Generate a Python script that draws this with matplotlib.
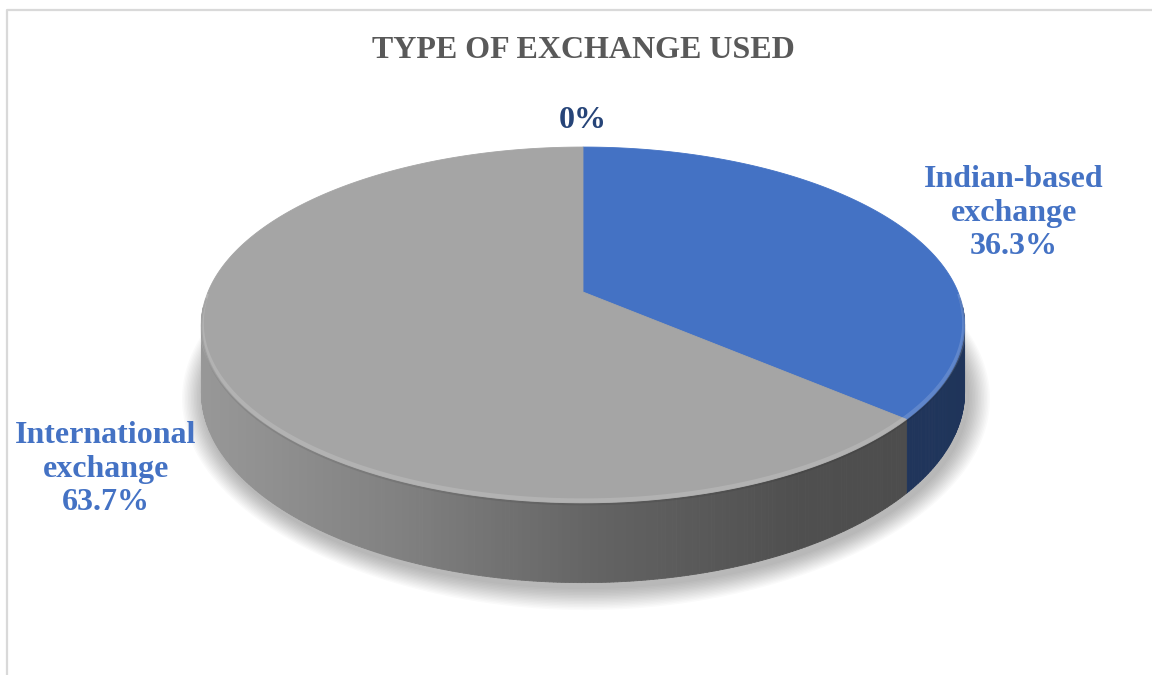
"""Type of exchange used: 3-D style pie drawn by hand in pixel space."""

import matplotlib
matplotlib.use("Agg")
import matplotlib.pyplot as plt
from matplotlib.collections import PolyCollection
from matplotlib.patches import Polygon
import numpy as np

# ---------------------------------------------------------------------------
# Data
# ---------------------------------------------------------------------------
categories = ["Indian-based exchange", "International exchange", "Other"]
shares = [36.3, 63.7, 0.0]
label_names = [["Indian-based", "exchange"], ["International", "exchange"], []]

top_colors = ["#4472C4", "#A5A5A5", "#ED7D31"]
label_colors = ["#4472C4", "#4472C4", "#264478"]

TITLE = "TYPE OF EXCHANGE USED"

# ---------------------------------------------------------------------------
# Geometry of the tilted disc (pixels, y grows downwards)
# ---------------------------------------------------------------------------
W, H_FIG = 1152, 675
CX, CY = 583.0, 292.0   # projected centre of the top face
A = 375.0               # horizontal radius
K = 171.8               # vertical radius before perspective
D = 5.4                 # camera distance in radius units
DEPTH = 65.0            # thickness of the disc

FONT = ["Liberation Serif", "DejaVu Serif"]


def project(theta_deg, z=0.0):
    """theta measured clockwise from 12 o'clock; z pushes the point down."""
    t = np.radians(np.asarray(theta_deg, dtype=float))
    x3 = np.sin(t)
    y3 = -np.cos(t)
    s = D / (D - y3)
    return CX + A * x3 * s, CY + K * y3 * s + z * s


def side_factor(x):
    return np.interp(x, [200, 400, 600, 800, 960], [0.92, 0.78, 0.60, 0.48, 0.46])


def pct_text(v):
    return "0%" if v == 0 else f"{v:.1f}%"


fig = plt.figure(figsize=(W / 100, H_FIG / 100), dpi=100)
ax = fig.add_axes([0, 0, 1, 1])
ax.set_xlim(0, W)
ax.set_ylim(H_FIG, 0)
ax.axis("off")

# chart frame (left and top edges only fall inside the canvas)
ax.plot([7, 7, W], [H_FIG, 10, 10], color="#d9d9d9", lw=1.6, zorder=1,
        solid_capstyle="butt")

# soft drop shadow under the disc
th_all = np.linspace(0, 360, 361)
bx, by = project(th_all, DEPTH)
bcx, bcy = CX, CY + DEPTH
for i in range(1, 16):
    grow = i * 1.5
    dx, dy = bx - bcx, by - bcy
    r = np.hypot(dx, dy)
    px = bcx + dx * (r + grow) / r + 3
    py = bcy + dy * (r + grow) / r + 5
    ax.add_patch(Polygon(np.column_stack([px, py]), closed=True,
                         facecolor="black", edgecolor="none", alpha=0.018,
                         zorder=2))

# wedge angles (clockwise from the top)
ends = np.cumsum(shares) / sum(shares) * 360.0
starts = ends - np.asarray(shares) / sum(shares) * 360.0

# side walls, shaded left-to-right
for s0, e0, col, v in zip(starts, ends, top_colors, shares):
    if v <= 0:
        continue
    lo, hi = max(s0, 95.0), min(e0, 265.0)
    if hi <= lo:
        continue
    th = np.append(np.arange(lo, hi, 0.5), hi)
    tx, ty = project(th)
    ux, uy = project(th, DEPTH)
    rgb = np.array(matplotlib.colors.to_rgb(col))
    quads, cols = [], []
    for j in range(len(th) - 1):
        quads.append([(tx[j], ty[j]), (tx[j + 1], ty[j + 1]),
                      (ux[j + 1], uy[j + 1]), (ux[j], uy[j])])
        f = side_factor(0.5 * (tx[j] + tx[j + 1]))
        cols.append(np.clip(rgb * f, 0, 1))
    ax.add_collection(PolyCollection(quads, facecolors=cols, edgecolors=cols,
                                     linewidths=0.6, zorder=3))

# top faces
for s0, e0, col, v in zip(starts, ends, top_colors, shares):
    if v <= 0:
        continue
    th = np.linspace(s0, e0, max(int((e0 - s0) * 2), 2))
    ax_, ay_ = project(th)
    pts = np.vstack([[CX, CY], np.column_stack([ax_, ay_])])
    ax.add_patch(Polygon(pts, closed=True, facecolor=col, edgecolor=col,
                         lw=0.6, zorder=4))

# bevel highlight on the front rim of the top face
th_rim = np.linspace(92, 268, 300)
rx, ry = project(th_rim)
ax.plot(rx, ry - 2.0, color="white", lw=3.5, alpha=0.15, zorder=5)
ax.plot(rx, ry + 1.5, color="black", lw=1.5, alpha=0.08, zorder=5)

# title
ax.text(583, 51, TITLE, ha="center", va="center", fontsize=23,
        fontweight="bold", color="#595959", family=FONT)

# data labels
label_pos = [(1014, 213), (106, 469), (583, 120)]
for names, v, c, (lx, ly) in zip(label_names, shares, label_colors, label_pos):
    txt = "\n".join(names + [pct_text(v)])
    ax.text(lx, ly, txt, ha="center", va="center", fontsize=23,
            fontweight="bold", color=c, family=FONT, linespacing=1.2)

fig.savefig("out.png", dpi=100)
